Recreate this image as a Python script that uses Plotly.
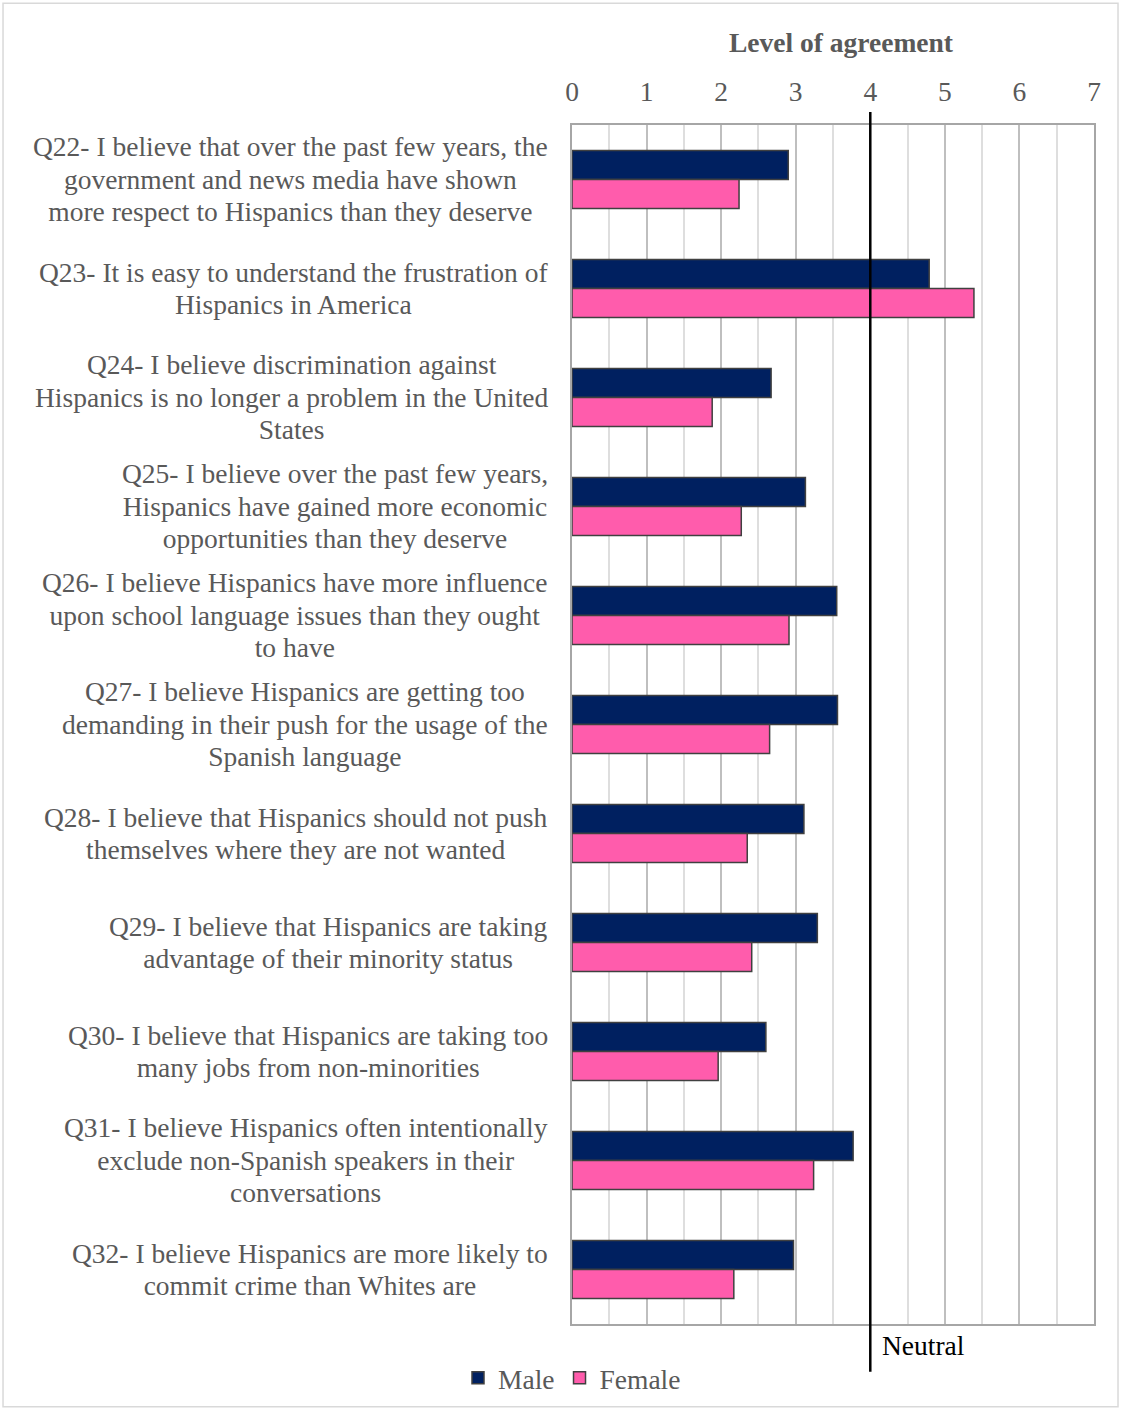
import plotly.graph_objects as go

categories = ["Q22", "Q23", "Q24", "Q25", "Q26", "Q27", "Q28", "Q29", "Q30", "Q31", "Q32"]
labels = [
    "Q22- I believe that over the past few years, the<br>government and news media have shown<br>more respect to Hispanics than they deserve",
    "Q23- It is easy to understand the frustration of<br>Hispanics in America",
    "Q24- I believe discrimination against<br>Hispanics is no longer a problem in the United<br>States",
    "Q25- I believe over the past few years,<br>Hispanics have gained more economic<br>opportunities than they deserve",
    "Q26- I believe Hispanics have more influence<br>upon school language issues than they ought<br>to have",
    "Q27- I believe Hispanics are getting too<br>demanding in their push for the usage of the<br>Spanish language",
    "Q28- I believe that Hispanics should not push<br>themselves where they are not wanted",
    "Q29- I believe that Hispanics are taking<br>advantage of their minority status",
    "Q30- I believe that Hispanics are taking too<br>many jobs from non-minorities",
    "Q31- I believe Hispanics often intentionally<br>exclude non-Spanish speakers in their<br>conversations",
    "Q32- I believe Hispanics are more likely to<br>commit crime than Whites are",
]
male = [2.90, 4.79, 2.67, 3.13, 3.55, 3.56, 3.11, 3.29, 2.60, 3.77, 2.97]
female = [2.24, 5.39, 1.88, 2.27, 2.91, 2.65, 2.35, 2.41, 1.96, 3.24, 2.17]
x_ticks = [0, 1, 2, 3, 4, 5, 6, 7]
neutral_value = 4

FONT = "Liberation Serif"
GREY = "#595959"
FS = 27.5

fig = go.Figure()
fig.add_trace(go.Bar(
    y=categories, x=male, orientation="h", name="Male",
    marker=dict(color="#002060", line=dict(color="#404040", width=1.5)),
))
fig.add_trace(go.Bar(
    y=categories, x=female, orientation="h", name="Female",
    marker=dict(color="#FF5CAC", line=dict(color="#404040", width=1.5)),
))

for cat, lab in zip(categories, labels):
    fig.add_annotation(
        x=0, xref="paper", y=cat, yref="y", text=lab, showarrow=False,
        xanchor="right", yanchor="middle", align="center", xshift=-22,
        font=dict(family=FONT, size=FS, color=GREY),
    )

# Neutral line and label
fig.add_shape(type="line", xref="x", yref="paper", x0=neutral_value, x1=neutral_value,
              y0=-0.0399, y1=1.0108, line=dict(color="black", width=2.5))
fig.add_annotation(x=neutral_value, xref="x", y=-0.018, yref="paper", text="Neutral",
                   showarrow=False, xanchor="left", yanchor="middle", xshift=10,
                   font=dict(family=FONT, size=FS, color="black"))

# Axis title
fig.add_annotation(x=0.5, xref="paper", xshift=8, y=1.069, yref="paper",
                   text="<b>Level of agreement</b>", showarrow=False,
                   xanchor="center", yanchor="middle",
                   font=dict(family=FONT, size=FS, color=GREY))

# Outer frame
fig.add_shape(type="rect", xref="paper", yref="paper", x0=-1.090, x1=1.046,
              y0=-0.069, y1=1.1015, line=dict(color="#d9d9d9", width=1.5), layer="below")

fig.update_layout(
    width=1122, height=1414,
    margin=dict(l=572, r=28, t=125, b=87),
    paper_bgcolor="white", plot_bgcolor="white",
    barmode="group", bargap=0.47, bargroupgap=0,
    font=dict(family=FONT, size=FS, color=GREY),
    legend=dict(orientation="h", x=0, xanchor="center", y=-0.045, yanchor="middle",
                font=dict(family=FONT, size=FS, color=GREY), traceorder="normal",
                itemwidth=30, bgcolor="rgba(0,0,0,0)"),
    xaxis=dict(
        side="top", range=[0, 7], tickvals=x_ticks, ticktext=[str(t) for t in x_ticks],
        showgrid=True, gridcolor="#bfbfbf", gridwidth=1.5,
        minor=dict(dtick=0.5, showgrid=True, gridcolor="#dedede", gridwidth=1.5),
        showline=True, linecolor="#a6a6a6", linewidth=2, mirror=True,
        ticks="", ticklabelstandoff=11, zeroline=False,
        tickfont=dict(family=FONT, size=FS, color=GREY),
    ),
    yaxis=dict(
        autorange="reversed", showticklabels=False, ticks="", showgrid=False,
        showline=True, linecolor="#a6a6a6", linewidth=2, mirror=True,
    ),
)

# Tighter line spacing for the multi-line category labels (Excel-like ~1.18em)
post_js = """
document.body.style.margin='0';
document.querySelectorAll('.annotation-text').forEach(function(txt){
  var lines = txt.querySelectorAll('tspan.line');
  var n = lines.length;
  if (n < 2) return;
  lines.forEach(function(t, i){
    t.setAttribute('dy', (i*1.18 + (n-1)*0.06) + 'em');
  });
});
"""

fig.write_html("out.html", post_script=post_js, config={"displayModeBar": False})
